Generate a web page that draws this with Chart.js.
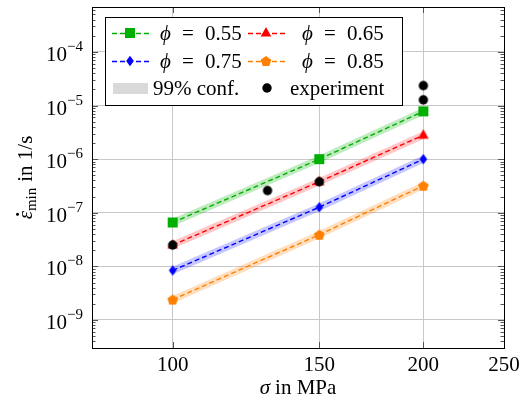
<!DOCTYPE html>
<html>
<head>
<meta charset="utf-8">
<script src="https://cdn.jsdelivr.net/npm/chart.js@4"></script>
<style>
  html, body { margin: 0; padding: 0; background: #fff; }
</style>
</head>
<body>
<canvas id="strainChart" width="521" height="407"></canvas>
<script>
// data
const sigma = [100, 150, 200];
const phi055 = [6.6e-8, 1.0e-6, 7.8e-6];
const phi065 = [2.5e-8, 3.8e-7, 2.8e-6];
const phi075 = [8.4e-9, 1.27e-7, 1.0e-6];
const phi085 = [2.4e-9, 3.9e-8, 3.2e-7];
const expSigma = [100, 130, 150, 200, 200];
const expRate = [2.5e-8, 2.6e-7, 3.8e-7, 1.28e-5, 2.36e-5];
const phiLabels = ['0.55', '0.65', '0.75', '0.85'];
const xTicks = [100, 150, 200, 250];
const yTicks = [1e-9, 1e-8, 1e-7, 1e-6, 1e-5, 1e-4];

const FONT = "'Liberation Serif', 'DejaVu Serif', serif";
const green = '#00b000', red = '#ff0000', blue = '#0000ff', orange = '#ff8000';

function marker(size, draw) {
    const c = document.createElement('canvas');
    c.width = c.height = size;
    const g = c.getContext('2d');
    g.translate(size / 2, size / 2);
    draw(g);
    return c;
}
function poly(g, pts, color) {
    g.beginPath();
    pts.forEach(([x, y], i) => i ? g.lineTo(x, y) : g.moveTo(x, y));
    g.closePath();
    g.fillStyle = color;
    g.fill();
}
const mSquare = marker(12, g => { g.fillStyle = green; g.fillRect(-5, -5, 10, 10); });
const mTri = marker(14, g => poly(g, [[0, -6], [5.3, 3.5], [-5.3, 3.5]], red));
const mDiamond = marker(12, g => poly(g, [[0, -5.2], [3.8, 0], [0, 5.2], [-3.8, 0]], blue));
const mPent = marker(14, g => {
    const pts = [];
    for (let k = 0; k < 5; k++) {
        const a = -Math.PI / 2 + k * 2 * Math.PI / 5;
        pts.push([5.6 * Math.cos(a), 5.6 * Math.sin(a) + 0.5]);
    }
    poly(g, pts, orange);
});
const mDot = marker(12, g => { g.beginPath(); g.arc(0, 0, 4.7, 0, Math.PI * 2); g.fillStyle = '#000'; g.fill(); });

const seriesDefs = [
    { vals: phi055, color: green, band: 'rgba(0,176,0,0.25)', mk: mSquare },
    { vals: phi065, color: red, band: 'rgba(255,0,0,0.22)', mk: mTri },
    { vals: phi075, color: blue, band: 'rgba(0,0,255,0.22)', mk: mDiamond },
    { vals: phi085, color: orange, band: 'rgba(255,128,0,0.25)', mk: mPent },
];

const datasets = [];
seriesDefs.forEach((s, i) => {
    const pts = sigma.map((x, j) => ({ x: x, y: s.vals[j] }));
    datasets.push({
        label: 'band' + i, data: pts, borderColor: s.band, borderWidth: 7,
        pointRadius: 0, fill: false, order: 10
    });
    datasets.push({
        label: phiLabels[i], data: pts, borderColor: s.color, borderWidth: 1.4,
        borderDash: [5, 3], pointStyle: s.mk, pointRadius: 5, fill: false, order: 5
    });
});
datasets.push({
    label: 'experiment', data: expSigma.map((x, j) => ({ x: x, y: expRate[j] })),
    showLine: false, pointStyle: mDot, pointRadius: 5, order: 0
});

function drawPieces(ctx, pieces, x, y) {
    // pieces: [text, font, dy]
    let cx = x;
    pieces.forEach(p => {
        ctx.font = p[1];
        ctx.fillText(p[0], cx, y + (p[2] || 0));
        cx += ctx.measureText(p[0]).width + (p[3] || 0);
    });
}
function piecesWidth(ctx, pieces) {
    let w = 0;
    pieces.forEach(p => { ctx.font = p[1]; w += ctx.measureText(p[0]).width + (p[3] || 0); });
    return w;
}

const decor = {
    id: 'decor',
    afterDraw(chart) {
        const { ctx, chartArea: a, scales: { x, y } } = chart;
        ctx.save();
        // minor / major ticks
        ctx.strokeStyle = '#555';
        ctx.lineWidth = 1;
        ctx.beginPath();
        for (let e = -10; e <= -3; e++) {
            for (let m = 1; m <= 9; m++) {
                const v = m * Math.pow(10, e);
                if (v < y.min || v > y.max) continue;
                const py = Math.round(y.getPixelForValue(v)) + 0.5;
                const len = m === 1 ? 6 : 3.5;
                ctx.moveTo(a.left, py); ctx.lineTo(a.left + len, py);
                ctx.moveTo(a.right, py); ctx.lineTo(a.right - len, py);
            }
        }
        xTicks.forEach(v => {
            const px = Math.round(x.getPixelForValue(v)) + 0.5;
            ctx.moveTo(px, a.bottom); ctx.lineTo(px, a.bottom - 6);
            ctx.moveTo(px, a.top); ctx.lineTo(px, a.top + 6);
        });
        ctx.stroke();

        // frame
        ctx.strokeStyle = '#000';
        ctx.strokeRect(Math.round(a.left) + 0.5, Math.round(a.top) + 0.5,
            Math.round(a.right - a.left), Math.round(a.bottom - a.top));

        ctx.fillStyle = '#000';
        ctx.textBaseline = 'alphabetic';
        // x tick labels
        ctx.font = '21px ' + FONT;
        ctx.textAlign = 'center';
        xTicks.forEach(v => ctx.fillText(String(v), x.getPixelForValue(v), 371));

        // y tick labels 10^e
        ctx.textAlign = 'left';
        yTicks.forEach(v => {
            const e = Math.round(Math.log10(v));
            const py = y.getPixelForValue(v);
            const sup = '\u2212' + Math.abs(e);
            ctx.font = '15px ' + FONT;
            const ws = ctx.measureText(sup).width;
            ctx.fillText(sup, 83 - ws, py - 1);
            ctx.font = '21px ' + FONT;
            const wb = ctx.measureText('10').width;
            ctx.fillText('10', 83 - ws - wb, py + 9);
        });

        // x axis title
        const xt = [['\u03c3', 'italic 21px ' + FONT, 0, 5], ['in MPa', '21px ' + FONT, 0]];
        const xw = piecesWidth(ctx, xt);
        drawPieces(ctx, xt, (a.left + a.right) / 2 - xw / 2, 394);

        // y axis title, rotated
        ctx.save();
        ctx.translate(32, (a.top + a.bottom) / 2);
        ctx.rotate(-Math.PI / 2);
        const yt = [['\u03b5', 'italic 21px ' + FONT, 0, 0], ['min', '15px ' + FONT, 4, 6], ['in 1/s', '21px ' + FONT, 0]];
        const yw = piecesWidth(ctx, yt);
        const x0 = -yw / 2;
        drawPieces(ctx, yt, x0, 0);
        ctx.font = 'italic 21px ' + FONT;
        const we = ctx.measureText('\u03b5').width;
        ctx.beginPath();
        ctx.arc(x0 + we / 2 + 1, -14.5, 1.5, 0, Math.PI * 2);
        ctx.fill();
        ctx.restore();

        // legend
        ctx.fillStyle = '#fff';
        ctx.fillRect(105, 17, 297, 88);
        ctx.strokeStyle = '#000';
        ctx.strokeRect(105.5, 17.5, 297, 88);
        const rows = [33, 61];
        const cols = [{ l: 112, m: 130, t: 160 }, { l: 248, m: 266, t: 302 }];
        seriesDefs.forEach((s, i) => {
            const r = rows[Math.floor(i / 2)], c = cols[i % 2];
            ctx.strokeStyle = s.color;
            ctx.lineWidth = 1.4;
            ctx.setLineDash([5, 3]);
            ctx.beginPath();
            ctx.moveTo(c.l, r + 0.5); ctx.lineTo(c.l + 37, r + 0.5);
            ctx.stroke();
            ctx.setLineDash([]);
            ctx.drawImage(s.mk, c.m - s.mk.width / 2, r - s.mk.height / 2);
            ctx.fillStyle = '#000';
            ctx.font = 'italic 21px ' + FONT;
            ctx.fillText('\u03d5', c.t, r + 7);
            ctx.font = '21px ' + FONT;
            ctx.fillText('=', c.t + 22, r + 7);
            ctx.fillText(phiLabels[i], c.t + 45, r + 7);
        });
        ctx.fillStyle = '#d9d9d9';
        ctx.fillRect(113, 83, 35, 11);
        ctx.fillStyle = '#000';
        ctx.font = '21px ' + FONT;
        ctx.fillText('99% conf.', 153, 95);
        ctx.drawImage(mDot, 267 - 6, 88 - 6);
        ctx.fillText('experiment', 290, 95);
        ctx.restore();
    }
};

new Chart(document.getElementById('strainChart').getContext('2d'), {
    type: 'line',
    data: { datasets: datasets },
    options: {
        responsive: false,
        animation: false,
        layout: { padding: { left: 92, right: 17, top: 7, bottom: 59 } },
        plugins: { legend: { display: false }, tooltip: { enabled: false } },
        scales: {
            x: {
                type: 'logarithmic', min: 80, max: 250,
                afterBuildTicks: s => { s.ticks = xTicks.map(v => ({ value: v })); },
                ticks: { display: false },
                grid: { color: '#c8c8c8', drawTicks: false },
                border: { display: false }
            },
            y: {
                type: 'logarithmic', min: 3e-10, max: 6.9e-4,
                afterBuildTicks: s => { s.ticks = yTicks.map(v => ({ value: v })); },
                ticks: { display: false },
                grid: { color: '#c8c8c8', drawTicks: false },
                border: { display: false }
            }
        }
    },
    plugins: [decor]
});
</script>
</body>
</html>
